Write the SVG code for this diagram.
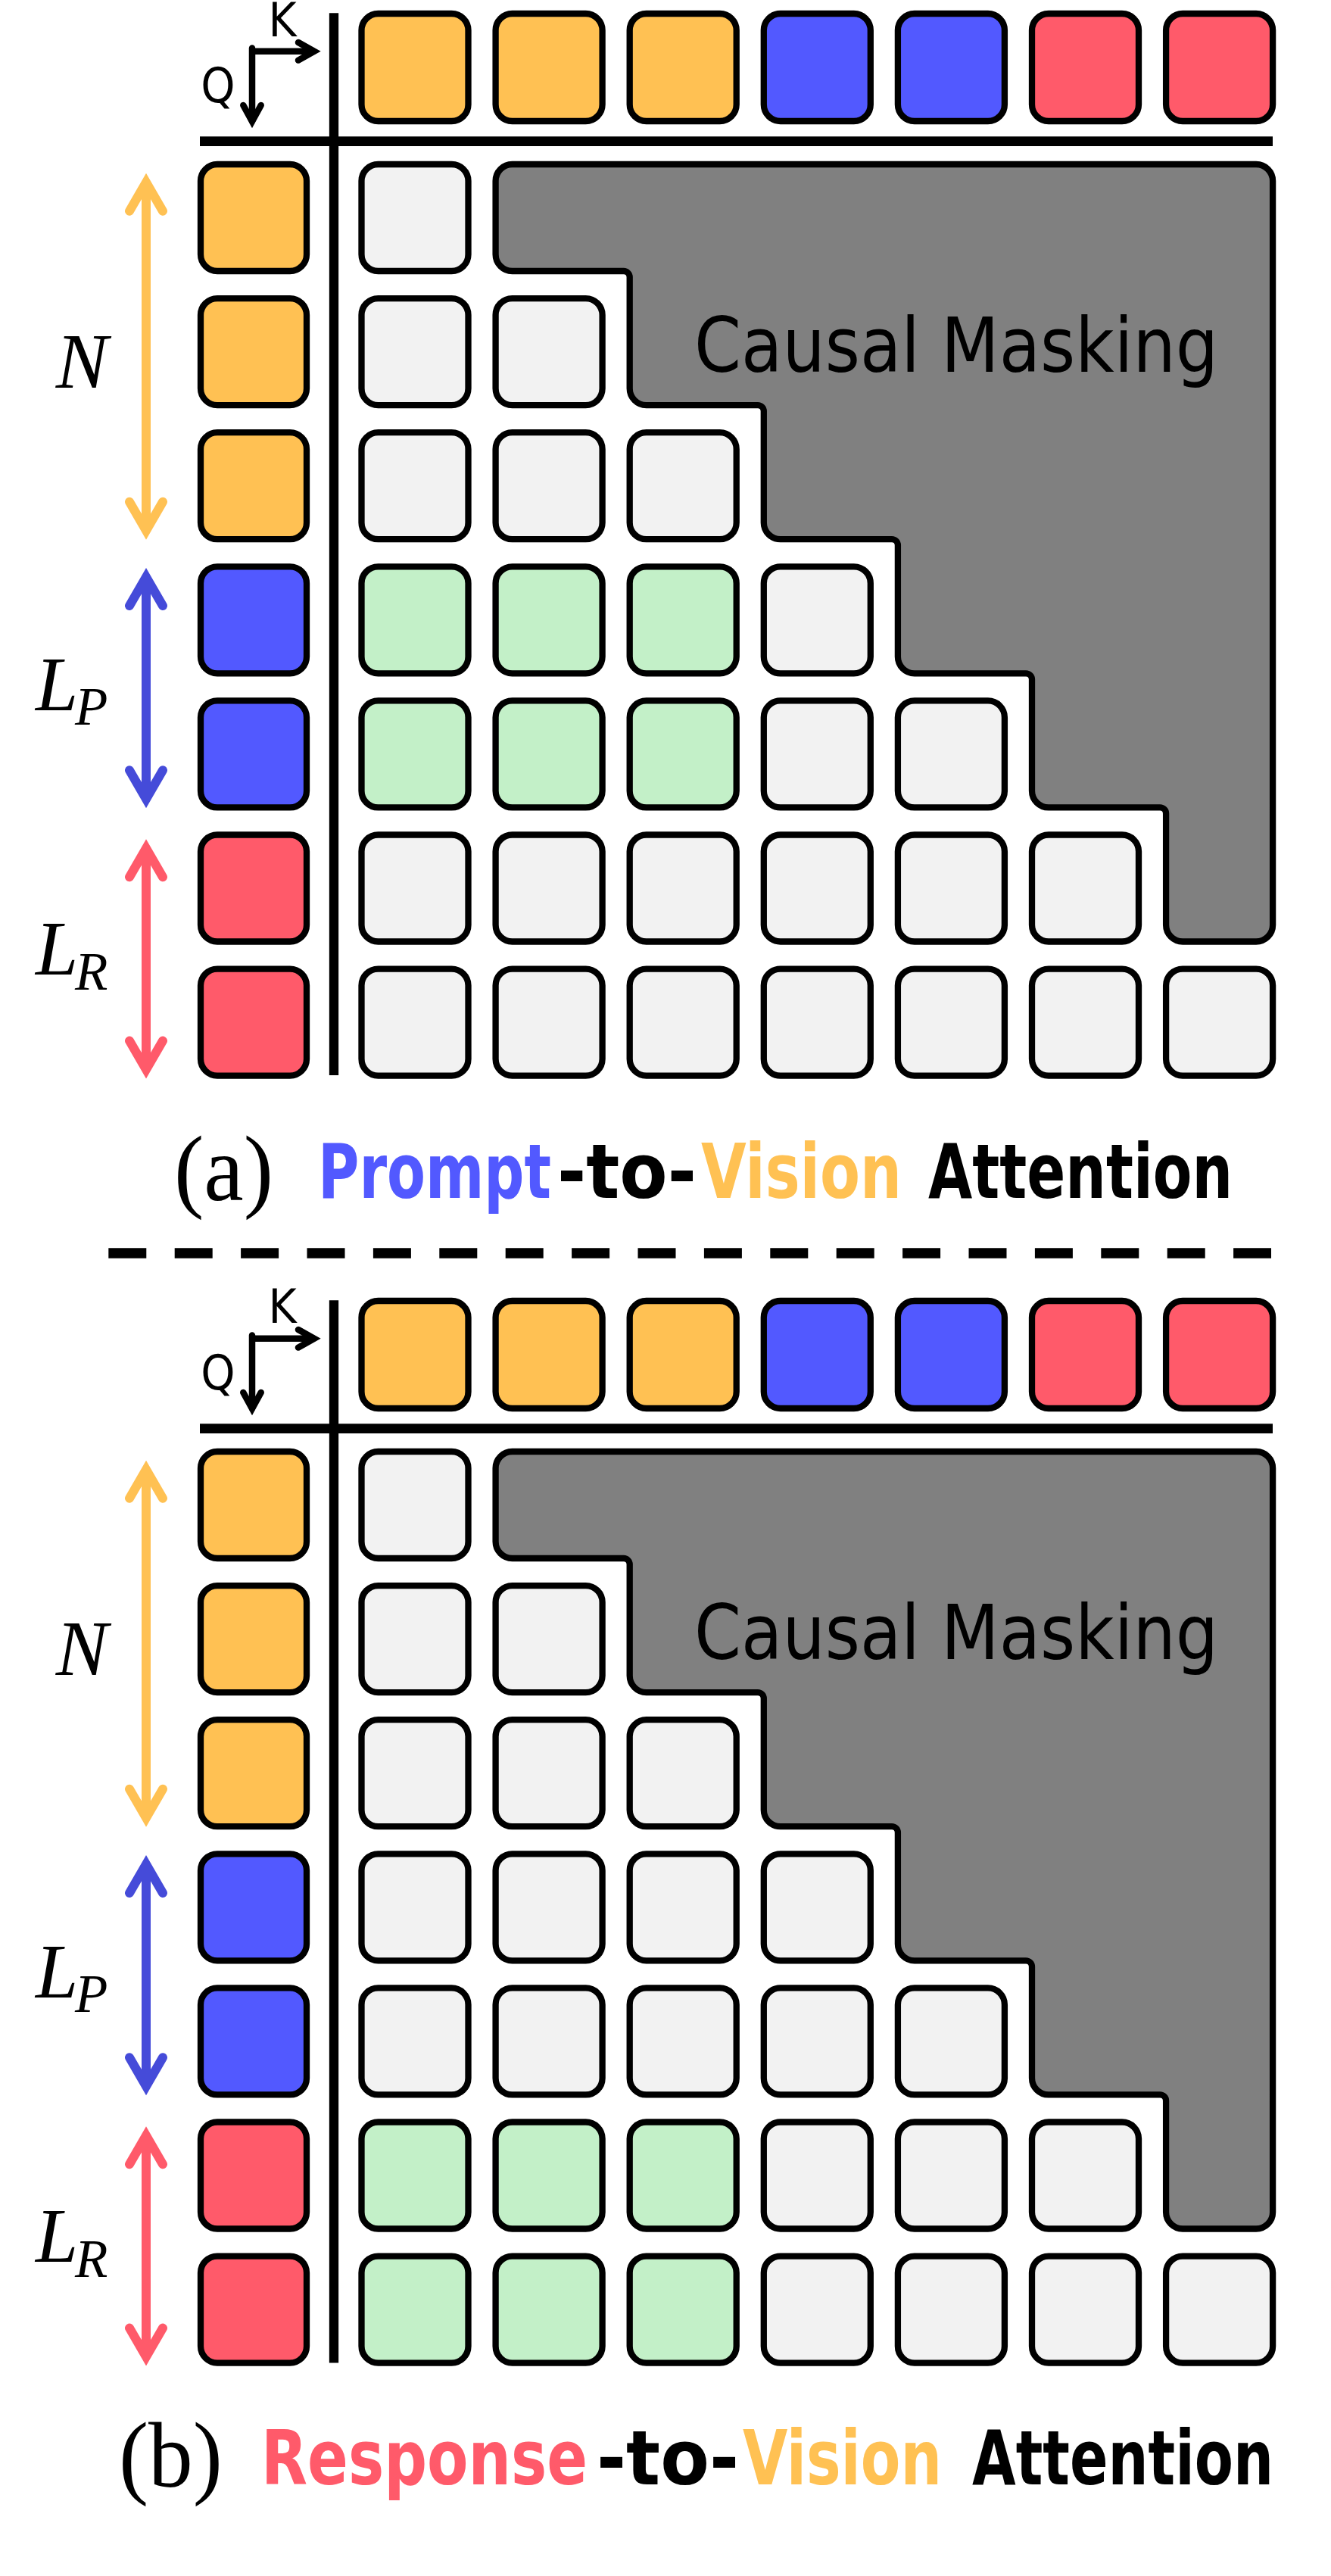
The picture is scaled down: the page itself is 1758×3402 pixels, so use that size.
<svg xmlns="http://www.w3.org/2000/svg" width="1758" height="3402" viewBox="0 0 1758 3402">
<style>
.c{stroke:#000;stroke-width:8.3}
.y{fill:#FFC153}.b{fill:#5259FF}.r{fill:#FF5A6A}.g{fill:#F2F2F2}.gr{fill:#C3F0C8}
.mask{fill:#808080;stroke:#000;stroke-width:8.3}
.axis{stroke:#000;fill:none}
.arr{fill:none;stroke-width:12;stroke-linecap:round;stroke-linejoin:miter}
.qk{fill:none;stroke:#000;stroke-width:8.5;stroke-linecap:round;stroke-linejoin:miter}
.sans{font-family:"DejaVu Sans Condensed","DejaVu Sans",sans-serif;font-stretch:condensed}
.cap{font-family:"DejaVu Sans Condensed","DejaVu Sans",sans-serif;font-stretch:condensed;font-weight:bold;font-size:99px}
.math{font-family:"Liberation Serif","DejaVu Serif",serif;font-style:italic}
.paren{font-family:"Liberation Serif","DejaVu Serif",serif;font-size:122px}
</style>

<!-- ================= PANEL A ================= -->
<g id="panel-a">
  <g id="a-axes">
    <line class="axis" x1="441" y1="17.3" x2="441" y2="1420" stroke-width="12.3"/>
    <line class="axis" x1="264" y1="186.7" x2="1681" y2="186.7" stroke-width="12.7"/>
  </g>
  <g id="a-qk">
    <path class="qk" d="M333 67.8 H414 M333 63.5 V160" stroke-linecap="butt"/>
    <path class="qk" d="M394 56 L415 67.8 L394 79.6 M321.3 139 L333 160.4 L344.7 139"/>
    <text class="sans" x="373" y="48" font-size="63" text-anchor="middle">K</text>
    <text class="sans" x="288" y="134.5" font-size="64" text-anchor="middle">Q</text>
  </g>
  <g id="a-keys">
    <rect class="c y" x="477.5" y="18" width="141" height="142" rx="22"/>
    <rect class="c y" x="654.6" y="18" width="141" height="142" rx="22"/>
    <rect class="c y" x="831.7" y="18" width="141" height="142" rx="22"/>
    <rect class="c b" x="1008.8" y="18" width="141" height="142" rx="22"/>
    <rect class="c b" x="1185.9" y="18" width="141" height="142" rx="22"/>
    <rect class="c r" x="1363" y="18" width="141" height="142" rx="22"/>
    <rect class="c r" x="1540.1" y="18" width="141" height="142" rx="22"/>
  </g>
  <g id="a-queries">
    <rect class="c y" x="265" y="217" width="140" height="141" rx="22"/>
    <rect class="c y" x="265" y="394.1" width="140" height="141" rx="22"/>
    <rect class="c y" x="265" y="571.2" width="140" height="141" rx="22"/>
    <rect class="c b" x="265" y="748.3" width="140" height="141" rx="22"/>
    <rect class="c b" x="265" y="925.4" width="140" height="141" rx="22"/>
    <rect class="c r" x="265" y="1102.5" width="140" height="141" rx="22"/>
    <rect class="c r" x="265" y="1279.6" width="140" height="141" rx="22"/>
  </g>
  <g id="a-labels">
    <path class="arr" stroke="#FFC153" d="M171 278.7 L193 240.7 L215 278.7 M193 240.7 V700.7 M171 662.7 L193 700.7 L215 662.7"/>
    <path class="arr" stroke="#454BD9" d="M171 800 L193 762 L215 800 M193 762 V1055.3 M171 1017.3 L193 1055.3 L215 1017.3"/>
    <path class="arr" stroke="#FF5A6A" d="M171 1158.3 L193 1120.3 L215 1158.3 M193 1120.3 V1412.6 M171 1374.6 L193 1412.6 L215 1374.6"/>
    <text class="math" x="108" y="512.3" font-size="103" text-anchor="middle">N</text>
    <text class="math" x="47" y="937.7" font-size="101">L</text>
    <text class="math" x="99" y="957.3" font-size="71">P</text>
    <text class="math" x="47" y="1286.7" font-size="101">L</text>
    <text class="math" x="99" y="1306.7" font-size="71">R</text>
  </g>
  <g id="a-mask">
    <path class="mask" d="M676.6 217 H1659.1 A22 22 0 0 1 1681.1 239 V1221.5 A22 22 0 0 1 1659.1 1243.5 H1562.1 A22 22 0 0 1 1540.1 1221.5 V1074.4 A8 8 0 0 0 1532.1 1066.4 H1385 A22 22 0 0 1 1363 1044.4 V897.3 A8 8 0 0 0 1355 889.3 H1207.9 A22 22 0 0 1 1185.9 867.3 V720.2 A8 8 0 0 0 1177.9 712.2 H1030.8 A22 22 0 0 1 1008.8 690.2 V543.1 A8 8 0 0 0 1000.8 535.1 H853.7 A22 22 0 0 1 831.7 513.1 V366 A8 8 0 0 0 823.7 358 H676.6 A22 22 0 0 1 654.6 336 V239 A22 22 0 0 1 676.6 217 Z"/>
    <text class="sans" x="917" y="490.7" font-size="99" textLength="692" lengthAdjust="spacingAndGlyphs">Causal Masking</text>
  </g>
  <g id="a-cells">
    <rect class="c g" x="477.5" y="217" width="141" height="141" rx="22"/>
    <rect class="c g" x="477.5" y="394.1" width="141" height="141" rx="22"/>
    <rect class="c g" x="654.6" y="394.1" width="141" height="141" rx="22"/>
    <rect class="c g" x="477.5" y="571.2" width="141" height="141" rx="22"/>
    <rect class="c g" x="654.6" y="571.2" width="141" height="141" rx="22"/>
    <rect class="c g" x="831.7" y="571.2" width="141" height="141" rx="22"/>
    <rect class="c gr" x="477.5" y="748.3" width="141" height="141" rx="22"/>
    <rect class="c gr" x="654.6" y="748.3" width="141" height="141" rx="22"/>
    <rect class="c gr" x="831.7" y="748.3" width="141" height="141" rx="22"/>
    <rect class="c g" x="1008.8" y="748.3" width="141" height="141" rx="22"/>
    <rect class="c gr" x="477.5" y="925.4" width="141" height="141" rx="22"/>
    <rect class="c gr" x="654.6" y="925.4" width="141" height="141" rx="22"/>
    <rect class="c gr" x="831.7" y="925.4" width="141" height="141" rx="22"/>
    <rect class="c g" x="1008.8" y="925.4" width="141" height="141" rx="22"/>
    <rect class="c g" x="1185.9" y="925.4" width="141" height="141" rx="22"/>
    <rect class="c g" x="477.5" y="1102.5" width="141" height="141" rx="22"/>
    <rect class="c g" x="654.6" y="1102.5" width="141" height="141" rx="22"/>
    <rect class="c g" x="831.7" y="1102.5" width="141" height="141" rx="22"/>
    <rect class="c g" x="1008.8" y="1102.5" width="141" height="141" rx="22"/>
    <rect class="c g" x="1185.9" y="1102.5" width="141" height="141" rx="22"/>
    <rect class="c g" x="1363" y="1102.5" width="141" height="141" rx="22"/>
    <rect class="c g" x="477.5" y="1279.6" width="141" height="141" rx="22"/>
    <rect class="c g" x="654.6" y="1279.6" width="141" height="141" rx="22"/>
    <rect class="c g" x="831.7" y="1279.6" width="141" height="141" rx="22"/>
    <rect class="c g" x="1008.8" y="1279.6" width="141" height="141" rx="22"/>
    <rect class="c g" x="1185.9" y="1279.6" width="141" height="141" rx="22"/>
    <rect class="c g" x="1363" y="1279.6" width="141" height="141" rx="22"/>
    <rect class="c g" x="1540.1" y="1279.6" width="141" height="141" rx="22"/>
  </g>
  <g id="a-caption">
    <text class="paren" x="230" y="1585" textLength="131" lengthAdjust="spacingAndGlyphs">(a)</text>
    <text class="cap" x="420" y="1581.7" fill="#5259FF" textLength="308" lengthAdjust="spacingAndGlyphs">Prompt</text>
    <text class="cap" x="736" y="1581.7" fill="#000" textLength="184" lengthAdjust="spacingAndGlyphs">-to-</text>
    <text class="cap" x="926" y="1581.7" fill="#FFC153" textLength="265" lengthAdjust="spacingAndGlyphs">Vision</text>
    <text class="cap" x="1226" y="1581.7" fill="#000" textLength="402" lengthAdjust="spacingAndGlyphs">Attention</text>
  </g>
</g>

<g id="separator">
  <line x1="143.3" y1="1655" x2="1679" y2="1655" stroke="#000" stroke-width="13.3" stroke-dasharray="50 37.4"/>
</g>

<!-- ================= PANEL B ================= -->
<g id="panel-b">
  <g id="b-axes">
    <line class="axis" x1="441" y1="1717.3" x2="441" y2="3120.5" stroke-width="12.3"/>
    <line class="axis" x1="264" y1="1886.7" x2="1681" y2="1886.7" stroke-width="12.7"/>
  </g>
  <g id="b-qk">
    <path class="qk" d="M333 1767.8 H414 M333 1763.5 V1860" stroke-linecap="butt"/>
    <path class="qk" d="M394 1756 L415 1767.8 L394 1779.6 M321.3 1839 L333 1860.4 L344.7 1839"/>
    <text class="sans" x="373" y="1747" font-size="63" text-anchor="middle">K</text>
    <text class="sans" x="288" y="1834.5" font-size="64" text-anchor="middle">Q</text>
  </g>
  <g id="b-keys">
    <rect class="c y" x="477.5" y="1718" width="141" height="142" rx="22"/>
    <rect class="c y" x="654.6" y="1718" width="141" height="142" rx="22"/>
    <rect class="c y" x="831.7" y="1718" width="141" height="142" rx="22"/>
    <rect class="c b" x="1008.8" y="1718" width="141" height="142" rx="22"/>
    <rect class="c b" x="1185.9" y="1718" width="141" height="142" rx="22"/>
    <rect class="c r" x="1363" y="1718" width="141" height="142" rx="22"/>
    <rect class="c r" x="1540.1" y="1718" width="141" height="142" rx="22"/>
  </g>
  <g id="b-queries">
    <rect class="c y" x="265" y="1917" width="140" height="141" rx="22"/>
    <rect class="c y" x="265" y="2094.1" width="140" height="141" rx="22"/>
    <rect class="c y" x="265" y="2271.2" width="140" height="141" rx="22"/>
    <rect class="c b" x="265" y="2448.3" width="140" height="141" rx="22"/>
    <rect class="c b" x="265" y="2625.4" width="140" height="141" rx="22"/>
    <rect class="c r" x="265" y="2802.5" width="140" height="141" rx="22"/>
    <rect class="c r" x="265" y="2979.6" width="140" height="141" rx="22"/>
  </g>
  <g id="b-labels">
    <path class="arr" stroke="#FFC153" d="M171 1978.7 L193 1940.7 L215 1978.7 M193 1940.7 V2400.7 M171 2362.7 L193 2400.7 L215 2362.7"/>
    <path class="arr" stroke="#454BD9" d="M171 2500 L193 2462 L215 2500 M193 2462 V2755.3 M171 2717.3 L193 2755.3 L215 2717.3"/>
    <path class="arr" stroke="#FF5A6A" d="M171 2858.3 L193 2820.3 L215 2858.3 M193 2820.3 V3112.6 M171 3074.6 L193 3112.6 L215 3074.6"/>
    <text class="math" x="108" y="2212.3" font-size="103" text-anchor="middle">N</text>
    <text class="math" x="47" y="2637.7" font-size="101">L</text>
    <text class="math" x="99" y="2657.3" font-size="71">P</text>
    <text class="math" x="47" y="2986.7" font-size="101">L</text>
    <text class="math" x="99" y="3006.7" font-size="71">R</text>
  </g>
  <g id="b-mask">
    <path class="mask" d="M676.6 1917 H1659.1 A22 22 0 0 1 1681.1 1939 V2921.5 A22 22 0 0 1 1659.1 2943.5 H1562.1 A22 22 0 0 1 1540.1 2921.5 V2774.4 A8 8 0 0 0 1532.1 2766.4 H1385 A22 22 0 0 1 1363 2744.4 V2597.3 A8 8 0 0 0 1355 2589.3 H1207.9 A22 22 0 0 1 1185.9 2567.3 V2420.2 A8 8 0 0 0 1177.9 2412.2 H1030.8 A22 22 0 0 1 1008.8 2390.2 V2243.1 A8 8 0 0 0 1000.8 2235.1 H853.7 A22 22 0 0 1 831.7 2213.1 V2066 A8 8 0 0 0 823.7 2058 H676.6 A22 22 0 0 1 654.6 2036 V1939 A22 22 0 0 1 676.6 1917 Z"/>
    <text class="sans" x="917" y="2190.7" font-size="99" textLength="692" lengthAdjust="spacingAndGlyphs">Causal Masking</text>
  </g>
  <g id="b-cells">
    <rect class="c g" x="477.5" y="1917" width="141" height="141" rx="22"/>
    <rect class="c g" x="477.5" y="2094.1" width="141" height="141" rx="22"/>
    <rect class="c g" x="654.6" y="2094.1" width="141" height="141" rx="22"/>
    <rect class="c g" x="477.5" y="2271.2" width="141" height="141" rx="22"/>
    <rect class="c g" x="654.6" y="2271.2" width="141" height="141" rx="22"/>
    <rect class="c g" x="831.7" y="2271.2" width="141" height="141" rx="22"/>
    <rect class="c g" x="477.5" y="2448.3" width="141" height="141" rx="22"/>
    <rect class="c g" x="654.6" y="2448.3" width="141" height="141" rx="22"/>
    <rect class="c g" x="831.7" y="2448.3" width="141" height="141" rx="22"/>
    <rect class="c g" x="1008.8" y="2448.3" width="141" height="141" rx="22"/>
    <rect class="c g" x="477.5" y="2625.4" width="141" height="141" rx="22"/>
    <rect class="c g" x="654.6" y="2625.4" width="141" height="141" rx="22"/>
    <rect class="c g" x="831.7" y="2625.4" width="141" height="141" rx="22"/>
    <rect class="c g" x="1008.8" y="2625.4" width="141" height="141" rx="22"/>
    <rect class="c g" x="1185.9" y="2625.4" width="141" height="141" rx="22"/>
    <rect class="c gr" x="477.5" y="2802.5" width="141" height="141" rx="22"/>
    <rect class="c gr" x="654.6" y="2802.5" width="141" height="141" rx="22"/>
    <rect class="c gr" x="831.7" y="2802.5" width="141" height="141" rx="22"/>
    <rect class="c g" x="1008.8" y="2802.5" width="141" height="141" rx="22"/>
    <rect class="c g" x="1185.9" y="2802.5" width="141" height="141" rx="22"/>
    <rect class="c g" x="1363" y="2802.5" width="141" height="141" rx="22"/>
    <rect class="c gr" x="477.5" y="2979.6" width="141" height="141" rx="22"/>
    <rect class="c gr" x="654.6" y="2979.6" width="141" height="141" rx="22"/>
    <rect class="c gr" x="831.7" y="2979.6" width="141" height="141" rx="22"/>
    <rect class="c g" x="1008.8" y="2979.6" width="141" height="141" rx="22"/>
    <rect class="c g" x="1185.9" y="2979.6" width="141" height="141" rx="22"/>
    <rect class="c g" x="1363" y="2979.6" width="141" height="141" rx="22"/>
    <rect class="c g" x="1540.1" y="2979.6" width="141" height="141" rx="22"/>
  </g>
  <g id="b-caption">
    <text class="paren" x="157" y="3284" textLength="137" lengthAdjust="spacingAndGlyphs">(b)</text>
    <text class="cap" x="345" y="3281" fill="#FF5A6A" textLength="431" lengthAdjust="spacingAndGlyphs">Response</text>
    <text class="cap" x="788" y="3281" fill="#000" textLength="188" lengthAdjust="spacingAndGlyphs">-to-</text>
    <text class="cap" x="981" y="3281" fill="#FFC153" textLength="263" lengthAdjust="spacingAndGlyphs">Vision</text>
    <text class="cap" x="1284" y="3281" fill="#000" textLength="398" lengthAdjust="spacingAndGlyphs">Attention</text>
  </g>
</g>
</svg>
